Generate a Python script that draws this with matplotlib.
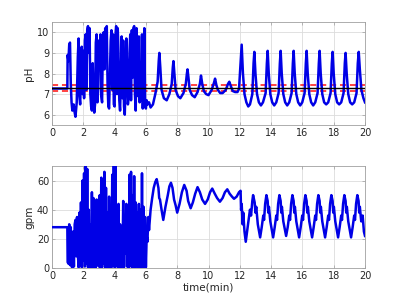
import matplotlib
matplotlib.use("Agg")
import matplotlib.pyplot as plt

# ---- data ----
ph_time = [0, 0.98, 1.0, 1.05, 1.1, 1.15, 1.2, 1.25, 1.3, 1.38, 1.45, 1.5, 1.58, 1.65, 1.7, 1.75, 1.8, 1.85,
           1.9, 1.95, 2.0, 2.05, 2.1, 2.15, 2.2, 2.25, 2.3, 2.35, 2.4, 2.45, 2.5, 2.55, 2.6, 2.65, 2.7, 2.75,
           2.8, 2.85, 2.9, 2.95, 3.0, 3.05, 3.1, 3.15, 3.2, 3.25, 3.3, 3.35, 3.4, 3.45, 3.5, 3.55, 3.6, 3.65,
           3.7, 3.75, 3.8, 3.85, 3.9, 3.95, 4.0, 4.05, 4.1, 4.15, 4.2, 4.25, 4.3, 4.35, 4.4, 4.45, 4.5, 4.55,
           4.6, 4.65, 4.7, 4.75, 4.8, 4.85, 4.9, 4.95, 5.0, 5.05, 5.1, 5.15, 5.2, 5.25, 5.3, 5.35, 5.4, 5.45,
           5.5, 5.55, 5.6, 5.65, 5.7, 5.75, 5.8, 5.85, 5.9, 5.95, 6.0, 6.05, 6.1, 6.2, 6.3, 6.45, 6.6, 6.75,
           6.82, 6.86, 6.92, 7.0, 7.15, 7.33, 7.5, 7.65, 7.72, 7.76, 7.82, 7.9, 8.05, 8.2, 8.4, 8.55, 8.62,
           8.66, 8.72, 8.8, 8.95, 9.12, 9.3, 9.45, 9.52, 9.6, 9.7, 9.85, 10.0, 10.2, 10.35, 10.42, 10.5, 10.6,
           10.75, 10.9, 11.1, 11.25, 11.33, 11.42, 11.55, 11.7, 11.85, 11.95, 12.05, 12.12, 12.2, 12.3,
           12.42, 12.54, 12.65, 12.8, 12.88,
           12.93, 13.0, 13.1, 13.22, 13.35, 13.48, 13.65, 13.73, 13.78,
           13.85, 13.95, 14.07, 14.2, 14.33, 14.48, 14.56, 14.61,
           14.68, 14.78, 14.9, 15.03, 15.16, 15.31, 15.39, 15.44,
           15.51, 15.61, 15.73, 15.86, 15.99, 16.14, 16.22, 16.27,
           16.34, 16.44, 16.56, 16.69, 16.82, 16.97, 17.05, 17.1,
           17.17, 17.27, 17.39, 17.52, 17.65, 17.8, 17.88, 17.93,
           18.0, 18.1, 18.22, 18.35, 18.48, 18.63, 18.71, 18.76,
           18.83, 18.93, 19.05, 19.18, 19.31, 19.46, 19.54, 19.6,
           19.67, 19.77, 19.9, 20.0]
ph_value = [7.27, 7.27, 8.9, 8.6, 9.4, 9.5, 7.5, 6.6, 6.2, 6.5, 6.1, 5.9, 6.6, 8.8, 9.7, 6.9, 6.5, 8.0,
            9.3, 7.0, 9.1, 6.8, 9.6, 9.9, 7.2, 10.1, 10.3, 9.0, 10.2, 7.0, 6.4, 6.2, 8.5, 6.8, 6.1, 6.5,
            9.5, 9.9, 6.6, 7.2, 9.6, 9.0, 9.9, 6.9, 6.6, 9.7, 10.0, 8.2, 10.2, 9.1, 10.3, 7.5, 6.4, 6.3,
            8.0, 9.6, 10.1, 7.2, 9.9, 6.5, 6.4, 9.8, 10.3, 7.0, 10.2, 9.0, 6.7, 6.2, 7.8, 9.8, 6.8, 9.6,
            6.4, 6.0, 7.5, 9.7, 8.2, 6.5, 6.9, 9.0, 9.9, 6.7, 10.1, 7.8, 10.2, 10.3, 7.0, 6.2, 10.2, 7.2,
            6.9, 9.8, 6.6, 8.5, 6.7, 9.9, 6.3, 7.5, 10.2, 6.4, 6.3, 6.7, 6.5, 6.6, 6.35, 6.5, 7.0, 7.6,
            8.6, 9.0, 8.3, 7.2, 6.8, 6.7, 7.0, 7.5, 8.3, 8.6, 8.0, 7.2, 6.9, 6.8, 7.05, 7.5, 8.0,
            8.2, 7.8, 7.2, 6.95, 6.85, 7.1, 7.5, 7.9, 7.5, 7.15, 7.0, 6.95, 7.2, 7.55, 7.75, 7.45, 7.2,
            7.05, 7.05, 7.2, 7.5, 7.6, 7.4, 7.15, 7.1, 7.1, 7.25, 8.5, 9.4, 8.0, 7.0,
            6.6, 6.4, 6.5, 7.0, 8.5,
            9.05, 8.0, 7.0, 6.6, 6.45, 6.6, 7.05, 8.5, 9.1,
            8.0, 7.0, 6.6, 6.45, 6.6, 7.05, 8.5, 9.1,
            8.0, 7.0, 6.6, 6.45, 6.6, 7.05, 8.5, 9.1,
            8.0, 7.0, 6.6, 6.45, 6.6, 7.05, 8.5, 9.1,
            8.0, 7.0, 6.6, 6.45, 6.6, 7.05, 8.5, 9.1,
            8.0, 7.0, 6.6, 6.5, 6.6, 7.05, 8.5, 9.05,
            8.0, 7.0, 6.6, 6.5, 6.6, 7.05, 8.5, 9.0,
            8.0, 7.0, 6.6, 6.5, 6.6, 7.05, 8.5, 9.05,
            8.2, 7.2, 6.8, 6.6]

gpm_time = [0, 0.98, 1.0, 1.05, 1.1, 1.15, 1.2, 1.25, 1.3, 1.35, 1.4, 1.45, 1.5, 1.55, 1.6, 1.65, 1.7,
            1.75, 1.8, 1.85, 1.9, 1.95, 2.0, 2.05, 2.1, 2.15, 2.2, 2.25, 2.3, 2.35, 2.4, 2.45, 2.5, 2.55,
            2.6, 2.65, 2.7, 2.75, 2.8, 2.85, 2.9, 2.95, 3.0, 3.05, 3.1, 3.15, 3.2, 3.25, 3.3, 3.35, 3.4,
            3.45, 3.5, 3.55, 3.6, 3.65, 3.7, 3.75, 3.8, 3.85, 3.9, 3.95, 4.0, 4.05, 4.1, 4.15, 4.2, 4.25,
            4.3, 4.35, 4.4, 4.45, 4.5, 4.55, 4.6, 4.65, 4.7, 4.75, 4.8, 4.85, 4.9, 4.95, 5.0, 5.05, 5.1,
            5.15, 5.2, 5.25, 5.3, 5.35, 5.4, 5.45, 5.5, 5.55, 5.6, 5.65, 5.7, 5.75, 5.8, 5.85, 5.9, 5.95,
            6.0, 6.05, 6.1, 6.15, 6.2, 6.3, 6.4, 6.5, 6.6, 6.69, 6.8, 6.85, 6.9, 7.0, 7.11, 7.25, 7.4,
            7.5, 7.6, 7.7, 7.8, 7.9, 8.0, 8.15, 8.3, 8.45, 8.6, 8.7, 8.86, 9.0, 9.15, 9.3, 9.45, 9.6,
            9.78, 9.95, 10.1, 10.24, 10.4, 10.55, 10.73, 10.9, 11.05, 11.2, 11.35, 11.5, 11.63, 11.8,
            11.95, 12.05, 12.08, 12.12, 12.18, 12.22, 12.3, 12.38, 12.45, 12.55, 12.65, 12.72, 12.8,
            12.85, 12.95, 13.0, 13.05, 13.15,
            13.3, 13.4, 13.5, 13.55, 13.62, 13.7, 13.78, 13.82, 13.86, 13.95,
            14.13, 14.23, 14.33, 14.38, 14.45, 14.53, 14.61, 14.65, 14.69, 14.78,
            14.96, 15.06, 15.16, 15.21, 15.28, 15.36, 15.44, 15.48, 15.52, 15.61,
            15.79, 15.89, 15.99, 16.04, 16.11, 16.19, 16.27, 16.31, 16.35, 16.44,
            16.62, 16.72, 16.82, 16.87, 16.94, 17.02, 17.1, 17.14, 17.18, 17.27,
            17.45, 17.55, 17.65, 17.7, 17.77, 17.85, 17.93, 17.97, 18.01, 18.1,
            18.28, 18.38, 18.48, 18.53, 18.6, 18.68, 18.76, 18.8, 18.84, 18.93,
            19.11, 19.21, 19.31, 19.36, 19.43, 19.51, 19.59, 19.63, 19.67, 19.76, 19.85, 19.93, 20.0]
gpm_value = [28, 28, 4, 3, 30, 2, 28, 1, 0.5, 25, 1, 30, 33, 8, 35, 10, 0.5,
             38, 2, 45, 0.5, 60, 5, 65, 1, 70, 3, 68, 0.5, 40, 0.5, 30, 0.5, 52,
             1, 48, 0.5, 20, 0.5, 47, 2, 38, 1, 50, 0.5, 62, 0.5, 58, 3, 66, 0.5,
             55, 1, 38, 0.5, 49, 1, 35, 0.5, 64, 2, 70, 0.5, 70, 5, 42, 0.5, 44,
             1, 30, 0.5, 20, 1, 46, 0.5, 35, 10, 44, 1, 40, 0.5, 64, 2, 66, 0.5,
             50, 1, 63, 0.5, 45, 1, 38, 0.5, 44, 1, 40, 0.5, 65, 1, 42, 0.5, 35,
             0.5, 22, 18, 35, 26, 40, 48, 55, 59, 61, 55, 48, 47, 40, 33, 42, 50,
             56, 58.5, 55, 47, 43, 38, 44, 52, 57, 53, 46, 41, 45, 51, 55.5, 52, 47,
             44, 47, 52, 54.5, 51, 48, 45.5, 48, 52, 54, 51, 49, 47.5, 49,
             52, 53, 40, 44, 30, 38, 25, 18, 24, 32, 40, 36, 46,
             50, 45, 38, 42, 30,
             21, 28, 36, 33, 44, 50, 46, 38, 42, 32,
             21, 28, 36, 33, 44, 50, 46, 38, 42, 32,
             22, 28, 36, 33, 44, 50, 46, 38, 42, 32,
             21, 28, 36, 33, 44, 50, 46, 38, 42, 32,
             21, 28, 36, 33, 44, 50, 46, 38, 42, 32,
             21, 28, 36, 33, 44, 50, 46, 38, 42, 32,
             21, 28, 36, 33, 44, 50, 46, 38, 42, 32,
             21, 28, 36, 33, 44, 50, 46, 38, 42, 32, 36, 25, 22]

setpoint = 7.3
band_low = 7.14
band_high = 7.46

x_ticks = [0, 2, 4, 6, 8, 10, 12, 14, 16, 18, 20]
ph_ticks = [6, 7, 8, 9, 10]
gpm_ticks = [0, 20, 40, 60]

# ---- figure ----
W, H = 403, 302
fig = plt.figure(figsize=(W / 100, H / 100), dpi=100)
fig.patch.set_facecolor("white")

blue = "#0000e6"
tick_col = "#262626"


def style(ax):
    ax.grid(True, color="#dcdcdc", linewidth=0.6)
    ax.set_axisbelow(True)
    for s in ax.spines.values():
        s.set_color("#a0a0a0")
        s.set_linewidth(0.6)
    ax.tick_params(direction="in", length=2.5, width=0.5, colors="#a0a0a0",
                   labelcolor=tick_col, labelsize=7, top=True, right=True, pad=2)
    ax.set_xlim(0, 20)
    ax.set_xticks(x_ticks)


ax1 = fig.add_axes([52 / W, 1 - 125 / H, 313 / W, 103 / H])
style(ax1)
ax1.axhline(band_low, color="#ff1010", linestyle=(0, (4, 2.5)), linewidth=1.1, zorder=2)
ax1.axhline(band_high, color="#ff1010", linestyle=(0, (4, 2.5)), linewidth=1.1, zorder=2)
ax1.plot(ph_time, ph_value, color=blue, linewidth=1.8, zorder=3)
ax1.axhline(setpoint, color="black", linewidth=1.0, zorder=5)
ax1.set_ylim(5.5, 10.5)
ax1.set_yticks(ph_ticks)
ax1.set_ylabel("pH", fontsize=7.5, color=tick_col, labelpad=2)

ax2 = fig.add_axes([52 / W, 1 - 268 / H, 313 / W, 102 / H])
style(ax2)
ax2.plot(gpm_time, gpm_value, color=blue, linewidth=1.8, zorder=3)
ax2.set_ylim(0, 70)
ax2.set_yticks(gpm_ticks)
ax2.set_ylabel("gpm", fontsize=7.5, color=tick_col, labelpad=2)
ax2.set_xlabel("time(min)", fontsize=7.5, color=tick_col, labelpad=1)

fig.savefig("out.png", dpi=100, facecolor="white")
